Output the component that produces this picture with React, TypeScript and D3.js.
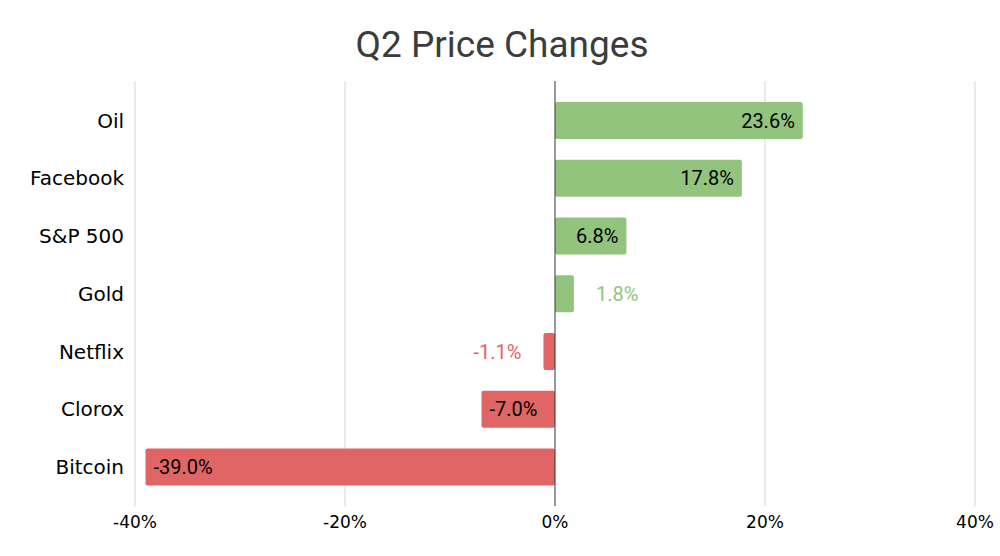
import React from "react";
import * as d3 from "d3";

const categories = ["Oil", "Facebook", "S&P 500", "Gold", "Netflix", "Clorox", "Bitcoin"];
const values = [23.6, 17.8, 6.8, 1.8, -1.1, -7.0, -39.0];
const ticks = [-40, -20, 0, 20, 40];
const title = "Q2 Price Changes";

const W = 1000;
const H = 556;
const GREEN = "#93c47d";
const RED = "#e06666";

export default function App() {
  const x = d3.scaleLinear().domain([-40, 40]).range([135, 975]);
  const y = d3
    .scaleBand<string>()
    .domain(categories)
    .range([91.6, 495.9])
    .paddingInner(0.36)
    .paddingOuter(0.18);
  const gridTop = 81;
  const gridBottom = 506;
  const x0 = x(0);

  return (
    <svg
      width={W}
      height={H}
      style={{ position: "absolute", left: 0, top: 0, background: "#fff" }}
    >
      <text
        x={502}
        y={57}
        textAnchor="middle"
        fontFamily="Roboto"
        fontSize={37}
        fill="#3c3c3c"
      >
        {title}
      </text>
      {ticks
        .filter((t) => t !== 0)
        .map((t) => (
          <line
            key={"g" + t}
            x1={x(t)}
            x2={x(t)}
            y1={gridTop}
            y2={gridBottom}
            stroke="#d4d4d4"
            strokeWidth={1}
          />
        ))}
      {ticks.map((t) => (
        <text
          key={"t" + t}
          x={x(t)}
          y={528}
          textAnchor="middle"
          fontFamily="DejaVu Sans"
          fontSize={17}
          fill="#000"
        >
          {t + "%"}
        </text>
      ))}
      {categories.map((c, i) => {
        const v = values[i];
        const yb = y(c)!;
        const bw = y.bandwidth();
        const xa = Math.min(x(v), x0);
        const wa = Math.abs(x(v) - x0);
        const color = v >= 0 ? GREEN : RED;
        const inside = wa > 60;
        const label = v.toFixed(1) + "%";
        let lx: number;
        let anchor: "start" | "end";
        if (v >= 0) {
          if (inside) {
            lx = x(v) - 8;
            anchor = "end";
          } else {
            lx = x(v) + 22;
            anchor = "start";
          }
        } else {
          if (inside) {
            lx = x(v) + 8;
            anchor = "start";
          } else {
            lx = x(v) - 22;
            anchor = "end";
          }
        }
        return (
          <g key={c}>
            <rect x={xa} y={yb} width={wa} height={bw} rx={2} fill={color} />
            <text
              x={124}
              y={yb + bw / 2}
              dy="0.36em"
              textAnchor="end"
              fontFamily="DejaVu Sans"
              fontSize={20}
              fill="#000"
            >
              {c}
            </text>
            <text
              x={lx}
              y={yb + bw / 2}
              dy="0.36em"
              textAnchor={anchor}
              fontFamily="Roboto"
              fontSize={20}
              fill={inside ? "#000" : color}
            >
              {label}
            </text>
          </g>
        );
      })}
      <line x1={x0} x2={x0} y1={gridTop} y2={gridBottom} stroke="#333" strokeWidth={1} />
    </svg>
  );
}
